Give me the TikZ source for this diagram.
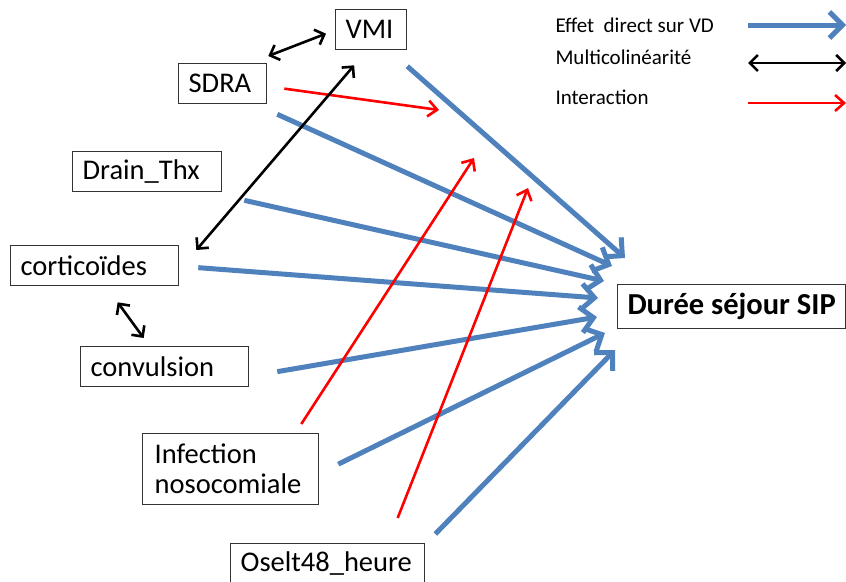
\documentclass[tikz,border=0pt]{standalone}
\usepackage{fontspec}
\setmainfont{Carlito}
\usetikzlibrary{arrows.meta}
\definecolor{effetblue}{RGB}{79,129,189}
\hyphenpenalty=10000
\exhyphenpenalty=10000

\begin{document}
\begin{tikzpicture}[x=1pt, y=-1pt,
        var/.style={draw=black!80, line width=1.3pt, anchor=north west, text width=#1, align=left, inner xsep=10pt, inner ysep=0pt, minimum height=40pt, font=\fontsize{28.5}{30}\selectfont},
        effet/.style={draw=effetblue, line width=5pt, -{Straight Barb[length=13pt, width=26pt]}},
        multi/.style={draw=black, line width=2.6pt, {Straight Barb[length=8pt, width=16pt]}-{Straight Barb[length=8pt, width=16pt]}},
        inter/.style={draw=red, line width=2.6pt, -{Straight Barb[length=9pt, width=16pt]}},
        legende/.style={anchor=west, font=\fontsize{21}{24}\selectfont}
    ]
        \useasboundingbox (0,0) rectangle (846,581);

        % Variables
        \node[var=51] (vmi) at (335,9) {VMI};
        \node[var=68] (sdra) at (178,63) {SDRA};
        \node[var=129] (drain) at (72,151) {Drain\_Thx};
        \node[var=148] (cortico) at (10,245) {corticoïdes};
        \node[var=148] (convul) at (80,346) {convulsion};
        \node[var=152, minimum height=71pt, inner xsep=12pt] (infect) at (142,433) {Infection\\nosocomiale};
        \node[var=174] (oselt) at (230,543) {Oselt48\_heure};

        % Variable dependante
        \node[draw=black!80, line width=1.3pt, anchor=north west, minimum width=228pt, minimum height=44pt, font=\fontsize{30.5}{32}\selectfont\bfseries] (sip) at (617,284) {Durée séjour SIP};

        % Legende
        \node[legende] (legeffet) at (552,25) {Effet\ \ direct sur VD};
        \node[legende] (legmulti) at (552,57) {Multicolinéarité};
        \node[legende] (leginter) at (552,97) {Interaction};
        \coordinate (le1) at (748,25);  \coordinate (le2) at (846,25);
        \coordinate (lm1) at (748,63);  \coordinate (lm2) at (846,63);
        \coordinate (li1) at (748,103); \coordinate (li2) at (846,103);
        \draw[effet] (le1) -- (le2);
        \draw[multi] (lm1) -- (lm2);
        \draw[inter] (li1) -- (li2);

        % Effets directs
        \coordinate (e1) at (625,258);
        \coordinate (e2) at (612,266);
        \coordinate (e3) at (604,281);
        \coordinate (e4) at (598,298);
        \coordinate (e5) at (597,317);
        \coordinate (e6) at (605,333);
        \coordinate (e7) at (615,350);
        \draw[effet] ([yshift=-16pt]vmi.south east) -- (e1);
        \draw[effet] ([shift={(10pt,-10pt)}]sdra.south east) -- (e2);
        \draw[effet] ([shift={(22pt,-8pt)}]drain.south east) -- (e3);
        \draw[effet] ([shift={(19pt,-2pt)}]cortico.east) -- (e4);
        \draw[effet] ([shift={(28pt,-5pt)}]convul.east) -- (e5);
        \draw[effet] ([shift={(19pt,5pt)}]infect.east) -- (e6);
        \draw[effet] ([shift={(10pt,9pt)}]oselt.north east) -- (e7);

        % Interactions
        \coordinate (i1) at (439,110);
        \coordinate (i2) at (474,158);
        \coordinate (i3) at (528,188);
        \draw[inter] ([shift={(17pt,-5pt)}]sdra.east) -- (i1);
        \draw[inter] ([shift={(-18pt,9pt)}]infect.north east) -- (i2);
        \draw[inter] ([shift={(70pt,25pt)}]oselt.north) -- (i3);

        % Multicolinearite
        \draw[multi] ([shift={(1pt,7pt)}]sdra.north east) -- ([shift={(-9pt,-4pt)}]vmi.west);
        \draw[multi] ([shift={(-17pt,-15pt)}]vmi.south) -- ([shift={(17pt,-5pt)}]cortico.north east);
        \draw[multi] ([shift={(23pt,-16pt)}]cortico.south) -- ([shift={(-21pt,8pt)}]convul.north);

    \end{tikzpicture}
\end{document}
